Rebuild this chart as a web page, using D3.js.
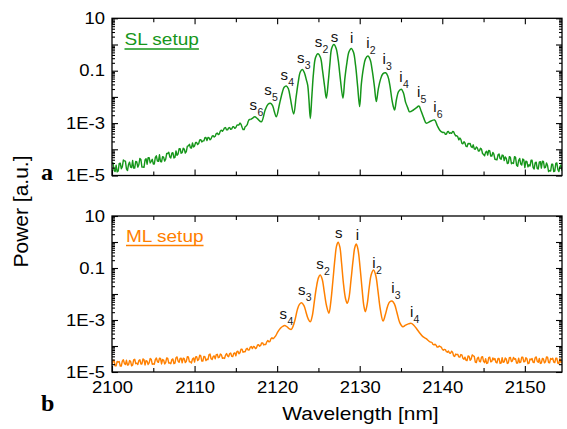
<!DOCTYPE html>
<html>
<head>
<meta charset="utf-8">
<script src="https://cdn.jsdelivr.net/npm/d3@7"></script>
<style>
  html, body { margin: 0; padding: 0; background: #fff; }
  svg { display: block; font-family: "Liberation Sans", Arial, sans-serif; }
</style>
</head>
<body>
<svg id="chart" width="567" height="429"></svg>
<script>
// ---- Spectra (log10 of power, a.u.) ----
// SL setup: noisy short-wavelength wing, sampled every 0.125 nm
const slLeftStart = 2100, slLeftStep = 0.125;
const slLeftLog10 = [
  -4.52,-4.52,-4.80,-4.85,-4.61,-4.86,-4.83,-4.54,-4.53,-4.74,
  -4.67,-4.41,-4.44,-4.45,-4.75,-4.81,-4.58,-4.49,-4.68,-4.70,
  -4.43,-4.72,-4.72,-4.46,-4.48,-4.68,-4.59,-4.35,-4.39,-4.68,
  -4.68,-4.69,-4.41,-4.36,-4.57,-4.32,-4.32,-4.52,-4.46,-4.38,
  -4.56,-4.56,-4.31,-4.25,-4.45,-4.46,-4.21,-4.47,-4.48,-4.28,
  -4.30,-4.45,-4.38,-4.16,-4.16,-4.11,-4.29,-4.33,-4.15,-4.13,
  -4.33,-4.31,-4.06,-4.23,-4.18,-3.98,-3.98,-4.15,-4.13,-3.96,
  -3.99,-4.14,-4.09,-3.88,-3.87,-3.81,-3.94,-3.95,-3.76,-3.91,
  -3.87,-3.74,-3.74,-3.82,-3.78,-3.64,-3.63,-3.72,-3.68,-3.68,
  -3.56,-3.55,-3.67,-3.55,-3.56,-3.64,-3.60,-3.50,-3.48,-3.53,
  -3.50,-3.40,-3.38,-3.44,-3.41,-3.30,-3.27,-3.31,-3.26,-3.18,
  -3.17,-3.26,-3.26,-3.18,-3.17,-3.24,-3.22,-3.14,-3.14,-3.20,
  -3.17,-3.08,-3.07,-3.07,-3.00,-3.04,-3.16,-3.25,-3.25,-3.14,
  -3.11,-3.06,-2.93,-2.86,-2.87
];
// SL setup: sideband comb
const slMidWavelength = [
  2117.00,2117.28,2117.64,2118.09,2118.55,2118.90,2119.18,2119.45,2119.65,2119.90,
  2120.30,2120.65,2120.85,2121.11,2121.35,2121.60,2122.00,2122.30,2122.55,2122.80,
  2123.05,2123.30,2123.54,2123.70,2123.85,2124.02,2124.20,2124.40,2124.65,2124.94,
  2125.25,2125.50,2125.75,2125.96,2126.20,2126.40,2126.60,2126.88,2127.15,2127.40,
  2127.65,2127.97,2128.20,2128.45,2128.70,2128.98,2129.25,2129.50,2129.75,2129.99,
  2130.20,2130.45,2130.70,2130.99,2131.27,2131.52,2131.78,2132.01,2132.25,2132.50,
  2132.80,2133.14,2133.40,2133.65,2133.90,2134.10,2134.23,2134.45,2134.70,2135.04,
  2135.30,2135.55,2135.80,2136.04,2136.50,2136.85,2137.17,2137.45,2137.75,2138.06,
  2138.58,2139.07,2139.40,2139.70,2140.00
];
const slMidLog10 = [
  -2.82,-2.76,-2.84,-2.95,-2.50,-2.28,-2.24,-2.33,-2.55,-2.76,
  -2.25,-1.80,-1.63,-1.58,-1.68,-2.05,-2.65,-2.00,-1.45,-1.05,
  -0.95,-1.08,-1.35,-1.55,-2.10,-2.82,-2.00,-1.10,-0.50,-0.35,
  -0.50,-1.00,-1.60,-2.05,-1.40,-0.70,-0.15, 0.00,-0.15,-0.60,
  -1.30,-2.05,-1.30,-0.70,-0.28,-0.15,-0.30,-0.80,-1.60,-2.37,
  -1.50,-0.90,-0.55,-0.44,-0.58,-1.00,-1.60,-2.18,-1.70,-1.35,
  -1.12,-1.08,-1.20,-1.55,-2.10,-2.40,-2.50,-2.10,-1.80,-1.71,
  -1.85,-2.20,-2.40,-2.57,-2.50,-2.42,-2.35,-2.55,-2.80,-3.00,
  -2.93,-2.88,-3.10,-3.27,-3.35
];
// SL setup: noisy long-wavelength wing
const slRightStart = 2140.25, slRightStep = 0.125;
const slRightLog10 = [
  -3.35,-3.43,-3.42,-3.33,-3.32,-3.39,-3.37,-3.39,-3.32,-3.33,
  -3.42,-3.49,-3.48,-3.52,-3.64,-3.57,-3.62,-3.77,-3.79,-3.71,
  -3.76,-3.89,-3.90,-3.78,-3.79,-3.78,-3.90,-3.93,-3.83,-3.98,
  -4.00,-3.91,-3.95,-4.07,-4.06,-3.96,-3.99,-4.16,-4.20,-4.25,
  -4.11,-4.07,-4.22,-4.04,-4.06,-4.26,-4.26,-4.12,-4.18,-4.38,
  -4.39,-4.40,-4.21,-4.18,-4.35,-4.38,-4.22,-4.23,-4.43,-4.29,
  -4.35,-4.54,-4.53,-4.28,-4.31,-4.55,-4.52,-4.54,-4.28,-4.31,
  -4.61,-4.65,-4.42,-4.35,-4.56,-4.60,-4.37,-4.40,-4.70,-4.45,
  -4.47,-4.67,-4.59,-4.64,-4.42,-4.42,-4.70,-4.75,-4.52,-4.49,
  -4.74,-4.75,-4.49,-4.47,-4.72,-4.45,-4.46,-4.71,-4.69,-4.52,
  -4.62,-4.85,-4.81,-4.83,-4.57,-4.57,-4.85,-4.83,-4.54,-4.52,
  -4.78,-4.85,-4.65,-4.60,-4.82
];

// ML setup: noisy short-wavelength wing
const mlLeftStart = 2100, mlLeftStep = 0.125;
const mlLeftLog10 = [
  -4.73,-4.55,-4.56,-4.76,-4.76,-4.59,-4.62,-4.60,-4.77,-4.77,
  -4.58,-4.53,-4.67,-4.71,-4.55,-4.73,-4.72,-4.56,-4.59,-4.76,
  -4.74,-4.53,-4.51,-4.68,-4.66,-4.71,-4.56,-4.53,-4.69,-4.69,
  -4.50,-4.52,-4.73,-4.56,-4.58,-4.71,-4.65,-4.48,-4.51,-4.70,
  -4.69,-4.70,-4.52,-4.46,-4.60,-4.63,-4.47,-4.48,-4.69,-4.52,
  -4.54,-4.69,-4.64,-4.46,-4.48,-4.66,-4.65,-4.68,-4.52,-4.50,
  -4.68,-4.66,-4.45,-4.42,-4.58,-4.63,-4.48,-4.47,-4.65,-4.47,
  -4.49,-4.64,-4.59,-4.41,-4.42,-4.61,-4.61,-4.65,-4.50,-4.46,
  -4.62,-4.42,-4.41,-4.56,-4.52,-4.35,-4.38,-4.58,-4.58,-4.40,
  -4.41,-4.56,-4.51,-4.52,-4.33,-4.31,-4.49,-4.52,-4.41,-4.38,
  -4.49,-4.33,-4.32,-4.45,-4.43,-4.31,-4.34,-4.47,-4.46,-4.48,
  -4.35,-4.29,-4.38,-4.41,-4.29,-4.27,-4.40,-4.41,-4.28,-4.26,
  -4.38,-4.22,-4.20,-4.30,-4.26,-4.12,-4.12,-4.24,-4.22,-4.22,
  -4.12,-4.09,-4.16,-4.15,-4.04,-4.02,-4.10,-4.02,-4.03,-4.10,
  -4.07,-3.96,-3.95,-4.01,-3.98,-3.88,-3.88,-3.96,-3.94,-3.94,
  -3.84,-3.79,-3.84,-3.83,-3.72,-3.68,-3.73
];
// ML setup: sideband comb
const mlMidWavelength = [
  2119.80,2120.10,2120.40,2120.65,2120.91,2121.15,2121.40,2121.72,2121.95,2122.20,
  2122.45,2122.70,2122.97,2123.25,2123.50,2123.75,2124.02,2124.25,2124.50,2124.75,
  2125.00,2125.21,2125.45,2125.70,2125.98,2126.27,2126.50,2126.75,2127.00,2127.20,
  2127.39,2127.60,2127.80,2128.05,2128.30,2128.50,2128.70,2128.95,2129.20,2129.40,
  2129.59,2129.80,2130.05,2130.30,2130.50,2130.68,2130.90,2131.15,2131.40,2131.68,
  2131.95,2132.20,2132.50,2132.83,2133.10,2133.40,2133.65,2133.92,2134.20,2134.50,
  2134.85,2135.23,2135.55,2135.90,2136.25,2136.55,2136.85,2137.20,2137.65,2138.05,
  2138.46
];
const mlMidLog10 = [
  -3.62,-3.45,-3.32,-3.25,-3.21,-3.25,-3.32,-3.36,-3.22,-2.95,
  -2.60,-2.40,-2.34,-2.45,-2.70,-2.95,-3.07,-2.85,-2.30,-1.75,
  -1.38,-1.27,-1.42,-1.90,-2.45,-2.74,-2.30,-1.50,-0.65,-0.15,
  -0.01,-0.20,-0.80,-1.65,-2.20,-2.36,-2.15,-1.45,-0.70,-0.22,
  -0.08,-0.30,-1.00,-1.85,-2.45,-2.68,-2.40,-1.75,-1.25,-1.08,
  -1.30,-1.85,-2.60,-3.04,-2.80,-2.45,-2.30,-2.27,-2.38,-2.70,
  -3.10,-3.26,-3.20,-3.15,-3.13,-3.20,-3.32,-3.47,-3.64,-3.72,
  -3.83
];
// ML setup: noisy long-wavelength wing
const mlRightStart = 2138.75, mlRightStep = 0.125;
const mlRightLog10 = [
  -3.86,-3.94,-3.96,-3.93,-3.97,-4.04,-4.04,-4.00,-4.02,-4.04,
  -4.12,-4.16,-4.13,-4.14,-4.22,-4.24,-4.19,-4.27,-4.28,-4.20,
  -4.24,-4.38,-4.40,-4.31,-4.33,-4.32,-4.42,-4.43,-4.33,-4.34,
  -4.47,-4.51,-4.43,-4.55,-4.56,-4.38,-4.40,-4.55,-4.50,-4.34,
  -4.38,-4.40,-4.62,-4.64,-4.47,-4.43,-4.59,-4.61,-4.43,-4.41,
  -4.59,-4.64,-4.49,-4.67,-4.66,-4.45,-4.43,-4.61,-4.59,-4.46,
  -4.53,-4.48,-4.63,-4.65,-4.48,-4.48,-4.67,-4.66,-4.45,-4.63,
  -4.61,-4.46,-4.50,-4.67,-4.65,-4.45,-4.44,-4.60,-4.57,-4.44,
  -4.51,-4.49,-4.66,-4.66,-4.47,-4.64,-4.62,-4.43,-4.43,-4.61,
  -4.60,-4.45,-4.49,-4.68,-4.67,-4.50,-4.53,-4.48,-4.63,-4.64,
  -4.45,-4.42,-4.59,-4.63,-4.48,-4.67,-4.66,-4.48,-4.50,-4.65,
  -4.61,-4.42,-4.43,-4.64,-4.65,-4.48,-4.51,-4.47,-4.62,-4.64,
  -4.47,-4.47,-4.67,-4.68,-4.49,-4.64,-4.60
];

// ---- Sideband labels (letter + subscript, anchor in data coords) ----
const slLabelText = ["s6","s5","s4","s3","s2","s","i","i2","i3","i4","i5","i6"];
const slLabelWavelength = [2117.12,2118.89,2120.87,2122.85,2125.00,2126.96,2129.02,2130.99,2132.95,2134.99,2137.13,2139.10];
const slLabelLog10 = [-2.50,-1.93,-1.36,-0.72,-0.08,0.11,0.05,-0.15,-0.74,-1.42,-1.99,-2.57];
const mlLabelText = ["s4","s3","s2","s","i","i2","i3","i4"];
const mlLabelWavelength = [2120.75,2122.97,2125.18,2127.45,2129.71,2131.72,2134.02,2136.28];
const mlLabelLog10 = [-2.96,-2.04,-1.04,0.17,0.08,-1.01,-1.97,-2.87];

// ---- Axis ticks ----
const xDomain = [2100, 2154.5];
const xMajorTicks = [2100, 2110, 2120, 2130, 2140, 2150];
const xMinorTicks = [2105, 2115, 2125, 2135, 2145];
const yDomain = [1e-5, 10];
const yDecades = [1e-5, 1e-4, 1e-3, 1e-2, 1e-1, 1, 10];
const yLabelled = new Map([[10, "10"], [0.1, "0.1"], [1e-3, "1E-3"], [1e-5, "1E-5"]]);

const slColor = "#16961a";
const mlColor = "#ff8000";
const stretch = 1.12;

const svg = d3.select("#chart");
const x = d3.scaleLinear().domain(xDomain).range([112, 562]);

// Split a spectrum into its noisy wings (straight segments) and the smooth comb
function buildSegments(leftStart, leftStep, leftVals, midW, midV, rightStart, rightStep, rightVals) {
  const left = leftVals.map((v, i) => [leftStart + i * leftStep, v]);
  const right = rightVals.map((v, i) => [rightStart + i * rightStep, v]);
  const mid = [left[left.length - 1], ...midW.map((w, i) => [w, midV[i]]), right[0]];
  return { left, mid, right };
}

const yMinor = [];
yDecades.slice(0, -1).forEach(d => { for (let k = 2; k <= 9; k++) yMinor.push(d * k); });

function drawPanel(opts) {
  const { top, bottom, segments, color, labels, legend, letter, letterY, showXLabels, id } = opts;
  const y = d3.scaleLog().domain(yDomain).range([bottom, top]);
  const g = svg.append("g");

  svg.append("clipPath").attr("id", "clip-" + id)
    .append("rect").attr("x", x.range()[0]).attr("y", top)
    .attr("width", x.range()[1] - x.range()[0]).attr("height", bottom - top);

  // spectrum
  const noisy = d3.line().x(d => x(d[0])).y(d => y(Math.pow(10, d[1])));
  const smooth = d3.line().x(d => x(d[0])).y(d => y(Math.pow(10, d[1])))
    .curve(d3.curveCatmullRom.alpha(0.5));
  const spec = g.append("g").attr("clip-path", `url(#clip-${id})`)
    .attr("fill", "none").attr("stroke", color)
    .attr("stroke-width", 1.4).attr("stroke-linejoin", "round");
  spec.append("path").datum(segments.left).attr("d", noisy);
  spec.append("path").datum(segments.mid).attr("d", smooth).attr("stroke-width", 1.5);
  spec.append("path").datum(segments.right).attr("d", noisy);

  // axes (ticks pointing inward)
  const axisStyle = sel => {
    sel.select(".domain").remove();
    sel.selectAll(".tick line").attr("stroke", "#000").attr("stroke-width", 1.1);
    sel.attr("font-family", "'Liberation Sans', Arial, sans-serif").attr("font-size", 16.5);
  };
  const fmtY = v => {
    for (const [k, s] of yLabelled) if (Math.abs(Math.log10(v) - Math.log10(k)) < 1e-6) return s;
    return "";
  };
  const left = g.append("g").attr("transform", `translate(${x.range()[0]},0)`)
    .call(d3.axisLeft(y).tickValues(yDecades).tickSize(-6).tickPadding(7).tickFormat(fmtY));
  axisStyle(left);
  left.selectAll(".tick text").attr("fill", "#000")
    .attr("x", -7 / stretch).attr("transform", `scale(${stretch},1)`);
  g.append("g").attr("transform", `translate(${x.range()[0]},0)`)
    .call(d3.axisLeft(y).tickValues(yMinor).tickSize(-3).tickFormat(""))
    .call(axisStyle);
  g.append("g").attr("transform", `translate(${x.range()[1]},0)`)
    .call(d3.axisRight(y).tickValues(yDecades).tickSize(-6).tickFormat(""))
    .call(axisStyle);
  g.append("g").attr("transform", `translate(${x.range()[1]},0)`)
    .call(d3.axisRight(y).tickValues(yMinor).tickSize(-3).tickFormat(""))
    .call(axisStyle);
  g.append("g").attr("transform", `translate(0,${top})`)
    .call(d3.axisTop(x).tickValues(xMajorTicks).tickSize(-6).tickFormat(""))
    .call(axisStyle);
  g.append("g").attr("transform", `translate(0,${top})`)
    .call(d3.axisTop(x).tickValues(xMinorTicks).tickSize(-4).tickFormat(""))
    .call(axisStyle);
  const bot = g.append("g").attr("transform", `translate(0,${bottom})`)
    .call(d3.axisBottom(x).tickValues(xMajorTicks).tickSize(-6)
      .tickFormat(showXLabels ? d3.format("d") : ""));
  axisStyle(bot);
  bot.selectAll(".tick text").attr("fill", "#000")
    .attr("y", 21.5).attr("dy", null)
    .attr("transform", `scale(${stretch},1)`);
  g.append("g").attr("transform", `translate(0,${bottom})`)
    .call(d3.axisBottom(x).tickValues(xMinorTicks).tickSize(-4).tickFormat(""))
    .call(axisStyle);

  // frame
  g.append("rect").attr("x", x.range()[0]).attr("y", top)
    .attr("width", x.range()[1] - x.range()[0]).attr("height", bottom - top)
    .attr("fill", "none").attr("stroke", "#000").attr("stroke-width", 1.3);

  // sideband labels
  labels.text.forEach((t, i) => {
    const cx = x(labels.w[i]), by = y(Math.pow(10, labels.v[i]));
    const main = g.append("text").attr("x", cx).attr("y", by)
      .attr("text-anchor", "middle").attr("font-size", 15).attr("fill", "#111")
      .text(t[0]);
    if (t.length > 1) {
      const w = main.node().getComputedTextLength();
      g.append("text").attr("x", cx + w / 2 + 0.3).attr("y", by + 6)
        .attr("font-size", 10.5).attr("fill", "#222").text(t.slice(1));
    }
  });

  // legend entry, underlined
  const lt = g.append("text").attr("font-size", 17).attr("fill", color)
    .attr("transform", `translate(${legend.x},${legend.y}) scale(${stretch},1)`)
    .text(legend.text);
  const lw = lt.node().getComputedTextLength() * stretch;
  g.append("line").attr("x1", legend.x).attr("x2", legend.x + lw)
    .attr("y1", legend.y + 4).attr("y2", legend.y + 4)
    .attr("stroke", color).attr("stroke-width", 1.4);

  // panel letter
  g.append("text").attr("x", 41).attr("y", letterY)
    .attr("font-family", "'Liberation Serif', 'Times New Roman', serif")
    .attr("font-weight", "bold").attr("font-size", 24).attr("fill", "#000")
    .text(letter);
}

drawPanel({
  id: "sl", top: 18.3, bottom: 175.5, color: slColor,
  segments: buildSegments(slLeftStart, slLeftStep, slLeftLog10, slMidWavelength, slMidLog10, slRightStart, slRightStep, slRightLog10),
  labels: { text: slLabelText, w: slLabelWavelength, v: slLabelLog10 },
  legend: { text: "SL setup", x: 124.5, y: 45 },
  letter: "a", letterY: 180, showXLabels: false
});
drawPanel({
  id: "ml", top: 216, bottom: 372, color: mlColor,
  segments: buildSegments(mlLeftStart, mlLeftStep, mlLeftLog10, mlMidWavelength, mlMidLog10, mlRightStart, mlRightStep, mlRightLog10),
  labels: { text: mlLabelText, w: mlLabelWavelength, v: mlLabelLog10 },
  legend: { text: "ML setup", x: 126, y: 241.5 },
  letter: "b", letterY: 411, showXLabels: true
});

// axis titles
svg.append("text")
  .attr("transform", `translate(360.5,420) scale(${stretch},1)`)
  .attr("text-anchor", "middle").attr("font-size", 18.7).attr("fill", "#000")
  .text("Wavelength [nm]");
svg.append("text")
  .attr("transform", "translate(28,211.5) rotate(-90)")
  .attr("text-anchor", "middle").attr("font-size", 21).attr("fill", "#000")
  .text("Power [a.u.]");
</script>
</body>
</html>
